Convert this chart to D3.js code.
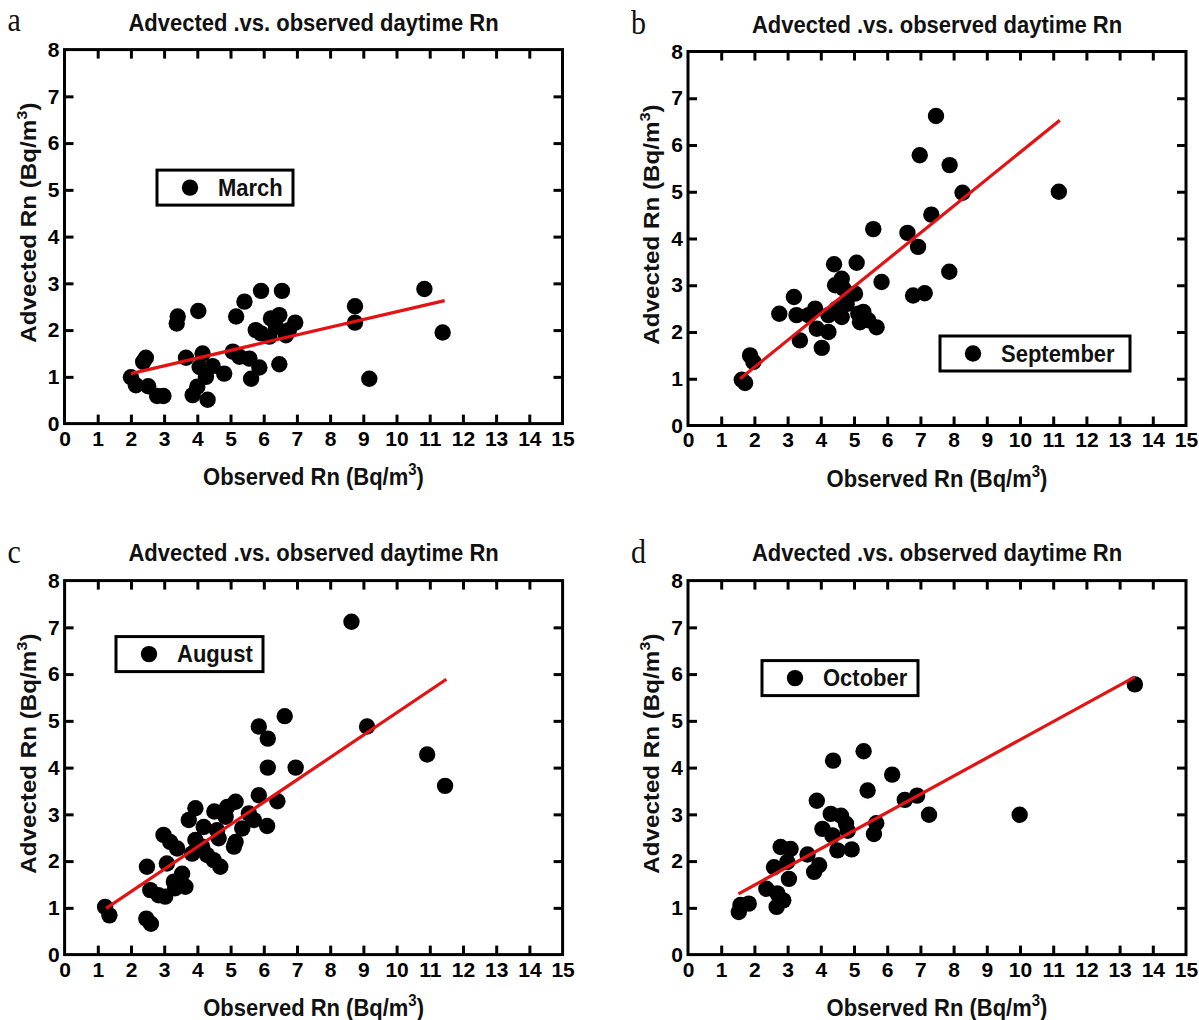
<!DOCTYPE html>
<html>
<head>
<meta charset="utf-8">
<script src="https://cdn.jsdelivr.net/npm/d3@7"></script>
<style>
  html, body { margin: 0; padding: 0; background: #fff; }
  svg { display: block; }
</style>
</head>
<body>
<svg id="chart" width="1199" height="1020"></svg>
<script>
// ---------------- DATA ----------------
const xTicks = [0,1,2,3,4,5,6,7,8,9,10,11,12,13,14,15];
const yTicks = [0,1,2,3,4,5,6,7,8];
const titleText = "Advected .vs. observed daytime Rn";
const panelLetters = ["a","b","c","d"];
const monthNames = ["March","September","August","October"];

// March (a)
const marchObs = [2.0,2.15,2.45,2.37,2.52,2.79,2.98,3.41,3.38,3.66,4.03,3.86,4.0,4.16,4.31,4.26,4.07,4.46,4.81,5.07,5.17,5.42,5.27,5.57,5.62,5.87,5.92,5.76,5.92,6.22,6.17,6.47,6.55,6.47,6.67,6.95,6.76,6.37,8.75,8.75,9.18,10.84,11.39];
const marchAdv = [0.99,0.82,1.41,1.32,0.80,0.59,0.59,2.29,2.14,1.41,2.41,0.61,0.79,1.50,0.51,1.00,1.21,1.23,1.07,1.54,2.29,2.61,1.43,1.39,0.96,1.20,2.84,2.00,1.93,2.25,1.86,2.32,2.84,1.27,1.89,2.16,2.00,2.07,2.51,2.16,0.96,2.88,1.95];
const marchFit = [[2.0,1.07],[11.45,2.63]];

// September (b)
const septObs = [7.47,6.98,7.88,8.27,11.17,7.33,5.58,6.61,6.93,4.40,5.08,7.87,4.63,5.83,4.43,4.68,5.03,6.78,7.13,3.19,2.75,3.27,3.83,3.63,4.23,4.48,4.63,4.78,5.13,5.28,5.18,5.43,5.68,3.88,4.23,3.37,4.03,1.87,1.97,1.62,1.72];
const septAdv = [6.62,5.78,5.57,4.98,5.00,4.51,4.20,4.12,3.82,3.45,3.48,3.29,3.14,3.07,3.00,2.93,2.82,2.78,2.83,2.75,2.39,2.36,2.50,2.36,2.36,2.50,2.32,2.60,2.39,2.43,2.21,2.25,2.10,2.07,2.00,1.82,1.66,1.50,1.36,0.98,0.91];
const septFit = [[1.57,1.0],[11.2,6.53]];

// August (c)
const augObs = [8.64,6.63,5.85,6.12,9.11,10.92,11.46,6.12,6.96,5.85,6.41,5.15,4.90,4.51,3.94,3.74,4.19,4.59,4.64,4.85,5.55,5.70,6.10,5.35,5.10,5.15,2.98,3.18,3.39,3.94,3.84,4.14,4.29,4.49,4.69,3.08,3.54,3.29,3.64,3.33,2.48,2.58,2.83,3.03,1.22,1.35,2.46,2.60];
const augAdv = [7.12,5.10,4.88,4.62,4.88,4.28,3.61,4.00,4.00,3.41,3.28,3.27,3.16,3.06,3.13,2.88,2.73,2.66,2.49,2.95,3.02,2.88,2.75,2.70,2.31,2.41,2.56,2.41,2.27,2.45,2.16,2.31,2.13,2.02,1.88,1.95,1.73,1.56,1.45,1.42,1.88,1.38,1.27,1.24,1.02,0.84,0.77,0.66];
const augFit = [[1.25,0.99],[11.5,5.89]];

// October (d)
const octObs = [13.46,9.99,7.26,6.90,6.53,5.29,4.37,6.15,5.41,3.88,4.30,4.61,4.76,4.05,4.35,4.81,5.67,5.60,4.50,4.93,2.79,3.09,3.60,3.95,3.80,2.59,2.99,3.04,2.36,2.69,2.87,2.67,1.58,1.83,1.53];
const octAdv = [5.78,2.99,2.99,3.40,3.31,4.35,4.15,3.85,3.51,3.29,3.01,2.97,2.80,2.69,2.55,2.65,2.81,2.58,2.23,2.25,2.30,2.26,2.14,1.91,1.77,1.87,1.98,1.62,1.41,1.31,1.16,1.02,1.06,1.09,0.91];
const octFit = [[1.52,1.30],[13.46,5.94]];

// ---------------- LAYOUT ----------------
const W = 498, H = 374;
const panels = [
  {left: 64.5, top: 49.6, obs: marchObs, adv: marchAdv, fit: marchFit, letter: panelLetters[0], month: monthNames[0],
   legend: {x: 92.5, y: 120.5, w: 136, h: 35}, letterY: 31, titleY: -19},
  {left: 688,  top: 51.5, obs: septObs,  adv: septAdv,  fit: septFit,  letter: panelLetters[1], month: monthNames[1],
   legend: {x: 252, y: 284.5, w: 190, h: 35}, letterY: 34, titleY: -19},
  {left: 64.6, top: 580.6, obs: augObs,  adv: augAdv,   fit: augFit,   letter: panelLetters[2], month: monthNames[2],
   legend: {x: 51.4, y: 56, w: 147, h: 35}, letterY: 563, titleY: -20},
  {left: 688,  top: 580.6, obs: octObs,  adv: octAdv,   fit: octFit,   letter: panelLetters[3], month: monthNames[3],
   legend: {x: 74, y: 80, w: 156, h: 35}, letterY: 563, titleY: -20}
];

const svg = d3.select("#chart");
const FONT = "'Liberation Sans', Arial, sans-serif";
const STRETCH = 1.1;

panels.forEach(p => {
  const x = d3.scaleLinear().domain([0, 15]).range([0, W]);
  const y = d3.scaleLinear().domain([0, 8]).range([H, 0]);
  const g = svg.append("g").attr("transform", `translate(${p.left},${p.top})`);

  // panel letter
  svg.append("text")
    .attr("transform", `translate(${p.left - 57},${p.letterY}) scale(1,${STRETCH})`)
    .attr("font-family", "'Liberation Serif', 'Times New Roman', serif")
    .attr("font-size", 30)
    .attr("fill", "#111")
    .text(p.letter);

  // title
  g.append("text")
    .attr("transform", `translate(${W/2},${p.titleY}) scale(1,${STRETCH})`)
    .attr("text-anchor", "middle")
    .attr("font-family", FONT).attr("font-weight", "bold").attr("font-size", 22)
    .attr("fill", "#111")
    .text(titleText);

  // axes with inward ticks
  const tickLen = 9;
  const axStyle = sel => {
    sel.select(".domain").remove();
    sel.selectAll(".tick line").attr("stroke", "#000").attr("stroke-width", 3);
    sel.selectAll(".tick text").attr("font-family", FONT).attr("font-weight", "bold")
      .attr("font-size", 21).attr("fill", "#000");
  };
  const inner = xTicks.slice(1, -1);
  const innerY = yTicks.slice(1, -1);

  const bx = g.append("g").attr("transform", `translate(0,${H})`)
    .call(d3.axisBottom(x).tickValues(xTicks).tickSize(-tickLen).tickPadding(7).tickFormat(d3.format("d")));
  axStyle(bx);
  bx.selectAll(".tick").filter(d => d === 0 || d === 15).select("line").remove();

  const tx = g.append("g")
    .call(d3.axisTop(x).tickValues(inner).tickSize(-tickLen).tickFormat(""));
  axStyle(tx);

  const ly = g.append("g")
    .call(d3.axisLeft(y).tickValues(yTicks).tickSize(-tickLen).tickPadding(5).tickFormat(d3.format("d")));
  axStyle(ly);
  ly.selectAll(".tick").filter(d => d === 0 || d === 8).select("line").remove();

  const ry = g.append("g").attr("transform", `translate(${W},0)`)
    .call(d3.axisRight(y).tickValues(innerY).tickSize(-tickLen).tickFormat(""));
  axStyle(ry);

  // frame
  g.append("rect").attr("x", 0).attr("y", 0).attr("width", W).attr("height", H)
    .attr("fill", "none").attr("stroke", "#000").attr("stroke-width", 3);

  // x label
  const xl = g.append("text")
    .attr("transform", `translate(${W/2},${H + 61}) scale(1,${STRETCH})`)
    .attr("text-anchor", "middle")
    .attr("font-family", FONT).attr("font-weight", "bold").attr("font-size", 22).attr("fill", "#111");
  xl.append("tspan").text("Observed Rn (Bq/m");
  xl.append("tspan").attr("dy", -9).attr("font-size", 15).text("3");
  xl.append("tspan").attr("dy", 9).text(")");

  // y label
  const yl = g.append("text")
    .attr("transform", `translate(-29,${H/2 - 14}) scale(1,${STRETCH}) rotate(-90)`)
    .attr("text-anchor", "middle")
    .attr("font-family", FONT).attr("font-weight", "bold").attr("font-size", 22).attr("fill", "#111");
  yl.append("tspan").text("Advected Rn (Bq/m");
  yl.append("tspan").attr("dy", -9).attr("font-size", 15).text("3");
  yl.append("tspan").attr("dy", 9).text(")");

  // points
  const pts = p.obs.map((v, i) => [v, p.adv[i]]);
  g.append("g").selectAll("circle").data(pts).join("circle")
    .attr("cx", d => x(d[0])).attr("cy", d => y(d[1])).attr("r", 8.2)
    .attr("fill", "#000");

  // regression line
  g.append("path")
    .datum(p.fit)
    .attr("d", d3.line().x(d => x(d[0])).y(d => y(d[1])))
    .attr("stroke", "#e41212").attr("stroke-width", 3.2).attr("fill", "none");

  // legend
  const L = p.legend;
  const lg = g.append("g").attr("transform", `translate(${L.x},${L.y})`);
  lg.append("rect").attr("width", L.w).attr("height", L.h)
    .attr("fill", "#fff").attr("stroke", "#000").attr("stroke-width", 3);
  lg.append("circle").attr("cx", 33).attr("cy", L.h/2).attr("r", 8.2).attr("fill", "#000");
  lg.append("text")
    .attr("transform", `translate(61,${L.h/2 + 8}) scale(1,${STRETCH})`)
    .attr("font-family", FONT).attr("font-weight", "bold").attr("font-size", 22).attr("fill", "#111")
    .text(p.month);
});
</script>
</body>
</html>
